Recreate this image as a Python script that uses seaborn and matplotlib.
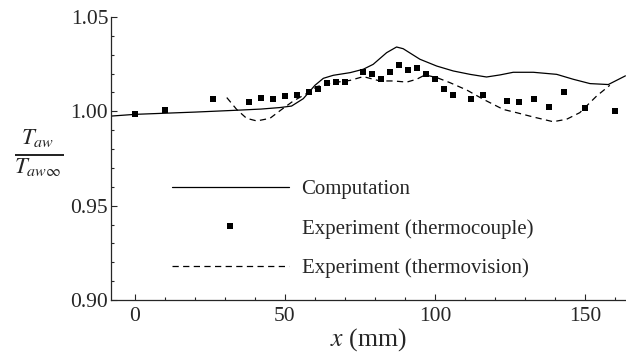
import matplotlib
matplotlib.use("Agg")
import matplotlib.pyplot as plt
import seaborn as sns
import pandas as pd
from matplotlib.lines import Line2D
from matplotlib.ticker import MultipleLocator

# ---- data ----
comp_x = [-7.8, 0, 10, 20, 32.8, 42, 48.3, 52.2, 56.1, 60, 62.8, 66.1, 71.7, 76.1, 79.4, 83.9, 87.2,
          89.4, 95, 100.6, 106.1, 111.7, 117.2, 121.7, 126.1, 132.8, 140.6, 146.1, 151.7, 157.8, 163.5]
comp_y = [0.9975, 0.9984, 0.9990, 0.9996, 1.0005, 1.0012, 1.0020, 1.0028, 1.0067, 1.0138, 1.0175, 1.0191,
          1.0205, 1.0223, 1.0249, 1.0311, 1.0341, 1.0332, 1.0276, 1.0240, 1.0214, 1.0196, 1.0182, 1.0193,
          1.0207, 1.0207, 1.0196, 1.0170, 1.0147, 1.0142, 1.0188]

tc_x = [0, 10, 26, 38, 42, 46, 50, 54, 58, 61, 64, 67, 70, 76, 79, 82, 85, 88, 91, 94, 97, 100,
        103, 106, 112, 116, 124, 128, 133, 138, 143, 150, 160]
tc_y = [0.9984, 1.0005, 1.0064, 1.0051, 1.0069, 1.0064, 1.0080, 1.0088, 1.0100, 1.0118, 1.0152, 1.0154,
        1.0157, 1.0209, 1.0196, 1.0171, 1.0207, 1.0244, 1.0219, 1.0232, 1.0196, 1.0173, 1.0118, 1.0088,
        1.0064, 1.0088, 1.0057, 1.0051, 1.0064, 1.0025, 1.0100, 1.0019, 1.0000]

tv_x = [30.6, 33.9, 37.2, 40.6, 45, 48.9, 52.8, 57.2, 60.6, 66.1, 71.7, 76.1, 81.7, 86.1, 90.6, 93.9,
        96.7, 100.6, 105, 110.6, 116.1, 122.8, 127.2, 132.8, 139.4, 143.9, 148.3, 153.9, 158.3]
tv_y = [1.0073, 1.0010, 0.9963, 0.9949, 0.9963, 1.0010, 1.0055, 1.0094, 1.0131, 1.0152, 1.0164, 1.0184,
        1.0161, 1.0161, 1.0155, 1.0170, 1.0193, 1.0179, 1.0152, 1.0113, 1.0064, 1.0010, 0.9993, 0.9970,
        0.9945, 0.9958, 0.9993, 1.0081, 1.0138]

labels = ["Computation", "Experiment (thermocouple)", "Experiment (thermovision)"]
x_ticks = [0, 50, 100, 150]
y_ticks = [0.90, 0.95, 1.00, 1.05]

# ---- style ----
sns.set_style("ticks")
plt.rcParams["font.family"] = ["Liberation Serif", "DejaVu Serif"]
plt.rcParams["mathtext.fontset"] = "stix"
plt.rcParams["font.size"] = 15.5

fig = plt.figure(figsize=(6.26, 3.58), dpi=100)
ax = fig.add_axes([111 / 626, 58 / 358, (626 - 111) / 626, (300 - 17) / 358])

df_c = pd.DataFrame({"x": comp_x, "y": comp_y})
df_t = pd.DataFrame({"x": tc_x, "y": tc_y})
df_v = pd.DataFrame({"x": tv_x, "y": tv_y})

sns.lineplot(data=df_c, x="x", y="y", ax=ax, color="black", lw=0.9, estimator=None, sort=False)
sns.lineplot(data=df_v, x="x", y="y", ax=ax, color="black", lw=0.9, estimator=None, sort=False,
             dashes=False, linestyle=(0, (5, 3.5)))
sns.scatterplot(data=df_t, x="x", y="y", ax=ax, color="black", marker="s", s=22, linewidth=0)

ax.set_xlim(-8, 163.7)
ax.set_ylim(0.90, 1.05)
ax.set_xticks(x_ticks)
ax.set_yticks(y_ticks)
ax.set_yticklabels([f"{v:.2f}" for v in y_ticks])
ax.xaxis.set_minor_locator(MultipleLocator(10))
ax.yaxis.set_minor_locator(MultipleLocator(0.01))
ax.tick_params(which="both", direction="in", width=0.8, labelsize=15.5)
ax.tick_params(which="major", length=4)
ax.tick_params(which="minor", length=2.5)
ax.tick_params(axis="x", which="major", pad=5)
ax.tick_params(axis="y", which="major", pad=2)
for s in ["top", "right"]:
    ax.spines[s].set_visible(False)
for s in ["left", "bottom"]:
    ax.spines[s].set_linewidth(0.9)

ax.set_xlabel(r"$x$ (mm)", fontsize=18.5, labelpad=0)
ax.set_ylabel("")
fig.text(39 / 626, 1 - 153 / 358, r"$\frac{T_{aw}}{T_{aw\infty}}$", fontsize=23.5,
         ha="center", va="center")

handles = [
    Line2D([], [], color="black", lw=0.9),
    Line2D([], [], color="black", marker="s", ls="none", markersize=4.5, markeredgewidth=0),
    Line2D([], [], color="black", lw=0.9, ls=(0, (5, 3.5))),
]
leg = ax.legend(handles, labels, loc="upper left", bbox_to_anchor=(172 / 626, 1 - 179.5 / 358),
                bbox_transform=fig.transFigure, frameon=False, handlelength=5.6,
                handletextpad=0.62, labelspacing=0.95, fontsize=15.0, borderaxespad=0, borderpad=0)

fig.savefig("out.png", dpi=100)
